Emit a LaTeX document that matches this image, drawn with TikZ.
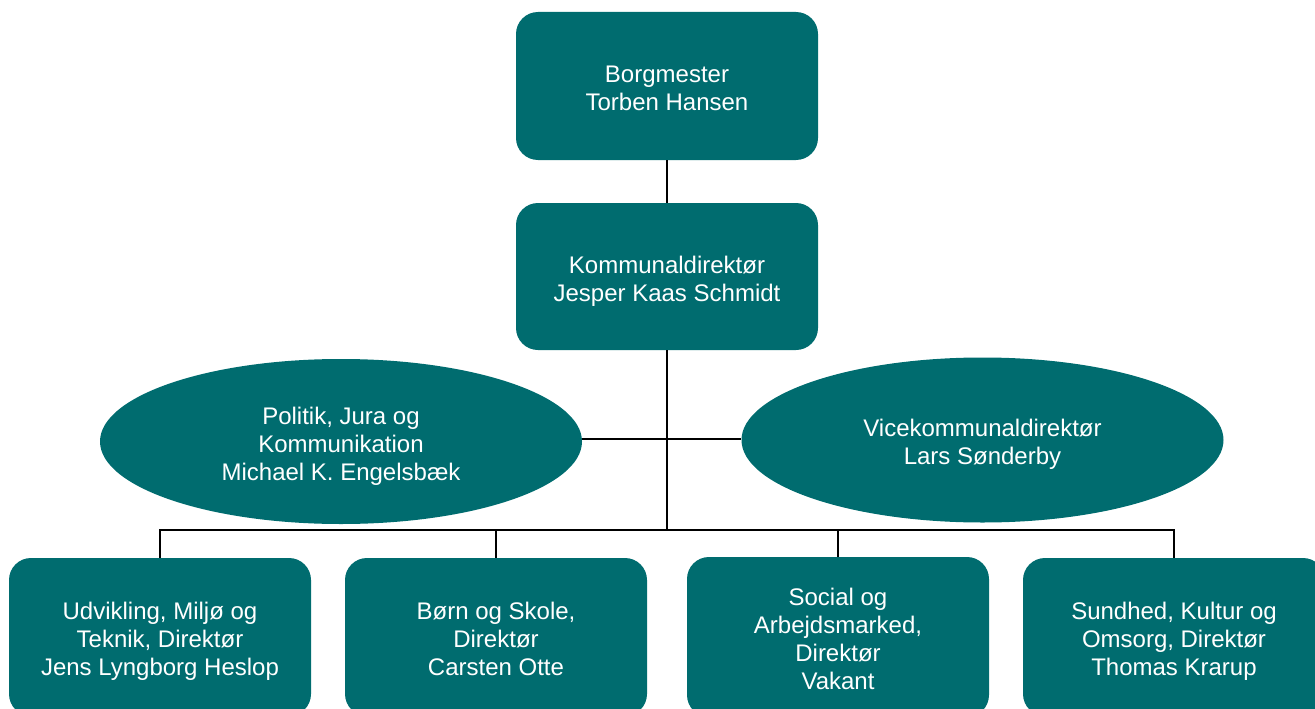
\documentclass[tikz,border=0pt]{standalone}
\usepackage{fontspec}
\setmainfont{Liberation Sans}
\usetikzlibrary{shapes.geometric}
\definecolor{teal}{RGB}{0,108,111}
\newcommand\tstr{\rule{0pt}{26pt}}
\newcommand\bstr{\rule[-5pt]{0pt}{5pt}}
\tikzset{
  orgbox/.style={fill=teal, rounded corners=22pt, minimum width=302pt, text=white, align=center, inner sep=0pt, font=\fontsize{24}{28}\selectfont},
  orgell/.style={ellipse, fill=teal, minimum width=482pt, minimum height=165pt, text=white, align=center, inner sep=0pt, font=\fontsize{24}{28}\selectfont},
  link/.style={draw=black, line width=2pt}
}
\begin{document}
\begin{tikzpicture}[x=1pt,y=-1pt]
\useasboundingbox (0,0) rectangle (1315,709);
\node[orgbox, minimum height=148pt] (bm) at (667,86) {\tstr Borgmester\\Torben Hansen\bstr};
\node[orgbox, minimum height=147pt] (kd) at (667,276.5) {\tstr Kommunaldirektør\\Jesper Kaas Schmidt\bstr};
\node[orgell] (pol) at (341,441.5) {\tstr Politik, Jura og\\Kommunikation\\Michael K. Engelsbæk\bstr};
\node[orgell] (vice) at (982.5,440) {\tstr Vicekommunaldirektør\\Lars Sønderby\bstr};
\node[orgbox, minimum height=158pt] (b1) at (160,637) {\tstr Udvikling, Miljø og\\Teknik, Direktør\\Jens Lyngborg Heslop\bstr};
\node[orgbox, minimum height=158pt] (b2) at (496,637) {\tstr Børn og Skole,\\Direktør\\Carsten Otte\bstr};
\node[orgbox, minimum height=160pt] (b3) at (838,637) {\tstr Social og\\Arbejdsmarked,\\Direktør\\Vakant\bstr};
\node[orgbox, minimum height=158pt] (b4) at (1174,637) {\tstr Sundhed, Kultur og\\Omsorg, Direktør\\Thomas Krarup\bstr};
\coordinate (bus) at (667,530);
\coordinate (mid) at (667,439);
\draw[link] (bm.south) -- (kd.north);
\draw[link] (kd.south) -- (bus);
\draw[link] (pol.east |- mid) -- (vice.west |- mid);
\draw[link] (b1.north) |- (bus);
\draw[link] (b2.north) |- (bus);
\draw[link] (b3.north) |- (bus);
\draw[link] (b4.north) |- (bus);
\end{tikzpicture}
\end{document}
